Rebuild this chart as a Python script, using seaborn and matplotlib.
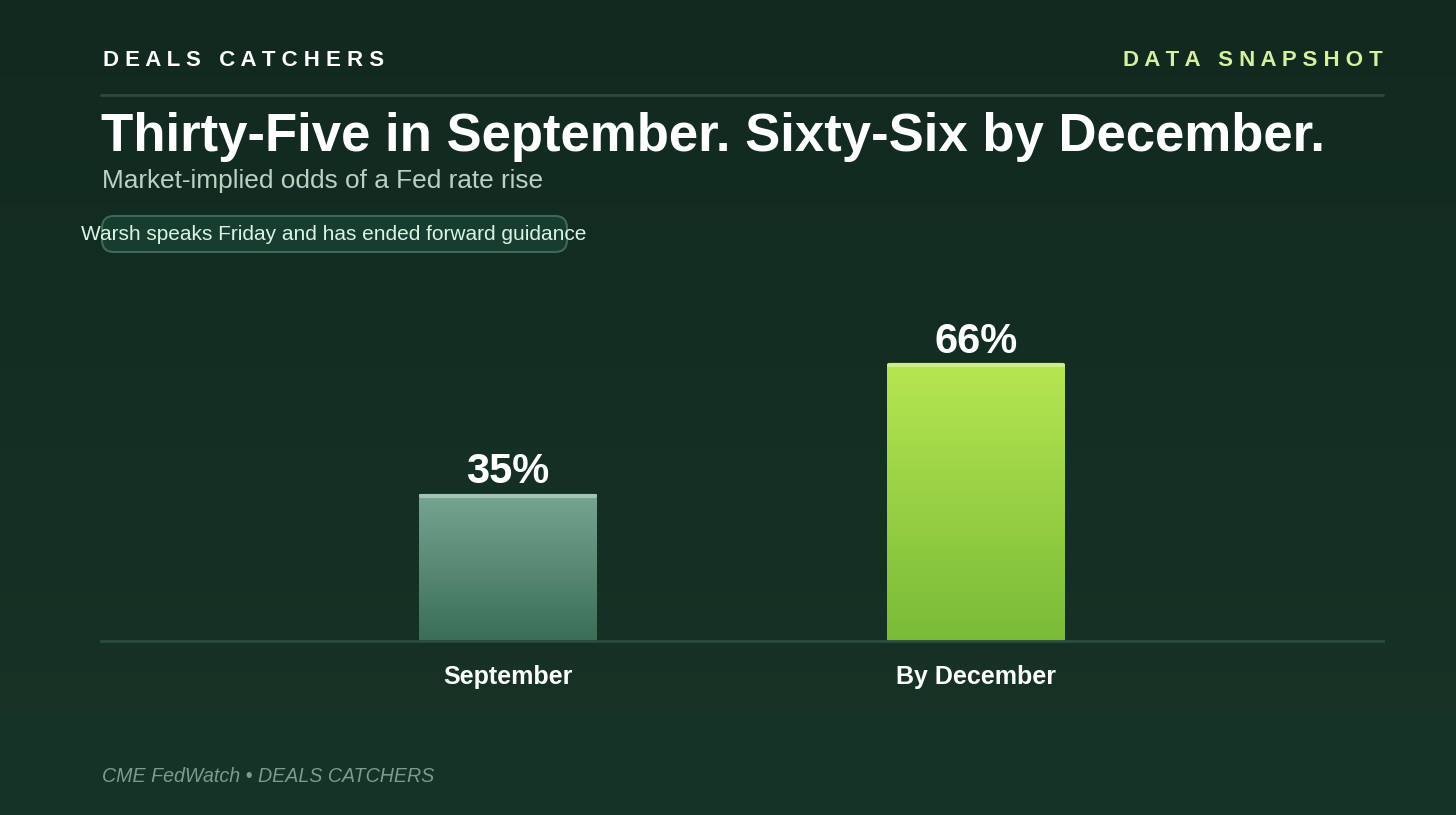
import numpy as np
import pandas as pd
import matplotlib.pyplot as plt
import seaborn as sns
from matplotlib.colors import LinearSegmentedColormap
from matplotlib.patches import FancyBboxPatch

# ====================== DATA ======================
periods = ["September", "By December"]
odds_pct = [35, 66]
value_labels = ["35%", "66%"]

# ====================== STYLE ======================
BG_TOP = "#12291f"
BG_BOTTOM = "#163427"
RULE = "#2c4a3d"
GRAD_TOP = {"September": "#76a591", "By December": "#b6e651"}
GRAD_BOT = {"September": "#3a6e56", "By December": "#79bb37"}
EDGE_HI = {"September": "#a3c4b4", "By December": "#cdee8c"}

sns.set_theme(style="white")
plt.rcParams['font.family'] = ['Liberation Sans', 'DejaVu Sans']

df = pd.DataFrame({"period": periods, "odds": odds_pct})

fig = plt.figure(figsize=(14.56, 8.15), dpi=100)

# background gradient
bg = fig.add_axes([0, 0, 1, 1], zorder=-10)
bg_cmap = LinearSegmentedColormap.from_list("bg", [BG_TOP, BG_BOTTOM])
bg.imshow(np.linspace(0, 1, 256).reshape(-1, 1), cmap=bg_cmap, aspect="auto",
          extent=(0, 1, 0, 1), origin="upper")
bg.set_axis_off()

W, H = 1456, 815
def fx(px): return px / W
def fy(py): return 1 - py / H

def spaced(s):
    # crude letter-spacing: one space between letters, three between words
    return "   ".join(" ".join(w) for w in s.split())

# header
fig.text(fx(103), fy(61), spaced("DEALS CATCHERS"),
         color="white", fontsize=16, fontweight="bold", va="center", ha="left")
fig.text(fx(1383), fy(61), spaced("DATA SNAPSHOT"),
         color="#d6f0a2", fontsize=16, fontweight="bold", va="center", ha="right")
fig.add_artist(plt.Line2D([fx(101), fx(1383)], [fy(95), fy(95)], color=RULE, lw=2))

fig.text(fx(101), fy(151), "Thirty-Five in September. Sixty-Six by December.",
         color="white", fontsize=38, fontweight="bold", va="baseline", ha="left")
fig.text(fx(102), fy(188), "Market-implied odds of a Fed rate rise",
         color="#b9d2c2", fontsize=18.9, va="baseline", ha="left")

# annotation pill
pill = FancyBboxPatch((fx(102), fy(252)), fx(567) - fx(102), fy(216) - fy(252),
                      boxstyle="round,pad=0,rounding_size=0.008",
                      transform=fig.transFigure, facecolor="#173d31",
                      edgecolor="#3e6a55", lw=1.5, mutation_aspect=W / H)
fig.add_artist(pill)
fig.text(fx(334), fy(235), "Warsh speaks Friday and has ended forward guidance",
         color="#d9f5e2", fontsize=15, va="center", ha="center")

# ====================== BARS ======================
ax = fig.add_axes([fx(101), fy(641), fx(1383) - fx(101), fy(221) - fy(641)])
ax.set_facecolor("none")
sns.barplot(data=df, x="period", y="odds", hue="period",
            palette=[GRAD_BOT[p] for p in periods], width=0.38,
            legend=False, linewidth=0, edgecolor="none", ax=ax)

grad = np.linspace(1, 0, 256).reshape(-1, 1)
for patch, p in zip(ax.patches, periods):
    x0, y0 = patch.get_x(), patch.get_y()
    w, h = patch.get_width(), patch.get_height()
    cmap = LinearSegmentedColormap.from_list(p, [GRAD_BOT[p], GRAD_TOP[p]])
    im = ax.imshow(grad, cmap=cmap, aspect="auto", extent=(x0, x0 + w, y0, y0 + h),
                   origin="upper", zorder=2)
    im.set_clip_path(patch)
    ax.plot([x0 + 0.004, x0 + w - 0.004], [y0 + h - 0.4, y0 + h - 0.4],
            color=EDGE_HI[p], lw=3, solid_capstyle="round", zorder=3)

for i, (v, lab) in enumerate(zip(odds_pct, value_labels)):
    ax.text(i, v + 5.3, lab, ha="center", va="center", color="white",
            fontsize=30, fontweight="bold")

ax.set_xlim(-0.87, 1.87)
ax.set_ylim(0, 100)
ax.set_xlabel("")
ax.set_ylabel("")
ax.set_yticks([])
ax.tick_params(axis="x", length=0, pad=17, labelsize=18, labelcolor="white")
for t in ax.get_xticklabels():
    t.set_fontweight("bold")
for s in ["top", "left", "right"]:
    ax.spines[s].set_visible(False)
ax.spines["bottom"].set_color("#2a4d3d")
ax.spines["bottom"].set_linewidth(2)

fig.text(fx(102), fy(776), "CME FedWatch \u2022 DEALS CATCHERS", color="#7d9c8c",
         fontsize=14.1, fontstyle="italic", va="center", ha="left")

fig.savefig("out.png", dpi=100)
plt.close(fig)
